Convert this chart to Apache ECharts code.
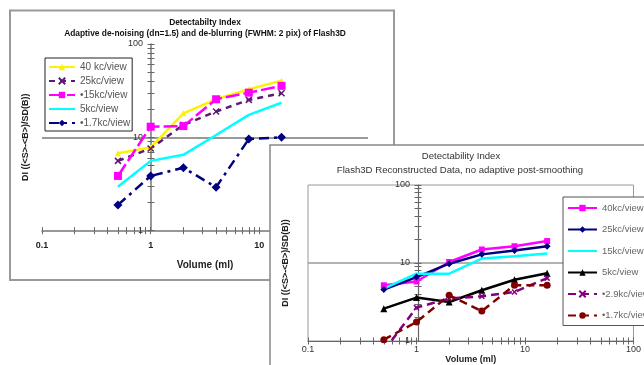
<!DOCTYPE html>
<html><head><meta charset="utf-8">
<script src="https://cdn.jsdelivr.net/npm/echarts@6/dist/echarts.min.js"></script>
<style>html,body{margin:0;padding:0;background:#fff}#c{width:644px;height:365px}</style>
</head><body><div id="c"></div>
<script>
const FONT = '"Liberation Sans", Arial, sans-serif';
const volumes = [0.5, 1, 2, 4, 8, 16];

// Chart 1 : adaptive de-noising + de-blurring
const c1Names = ['40 kc/view', '25kc/view', '•15kc/view', '5kc/view', '•1.7kc/view'];
const c1_40 = [6.75, 7.8, 18.1, 25.6, 32.8, 40.5];
const c1_25 = [5.6, 7.6, 13.6, 18.9, 25.2, 29.7];
const c1_15 = [3.86, 13.0, 13.2, 25.6, 30.1, 35.6];
const c1_5 = [2.96, 5.6, 6.5, 10.6, 17.4, 23.5];
const c1_1p7 = [1.89, 3.86, 4.73, 2.92, 9.6, 10.0];

// Chart 2 : no adaptive post-smoothing
const c2Names = ['40kc/view', '25kc/view', '15kc/view', '5kc/view', '•2.9kc/view', '•1.7kc/view'];
const c2_40 = [5.18, 5.8, 10.3, 14.9, 16.4, 19.1];
const c2_25 = [4.56, 6.6, 9.8, 12.9, 14.5, 16.4];
const c2_15 = [4.7, 7.3, 7.3, 11.4, 12.2, 13.2];
const c2_5 = [2.6, 3.6, 3.16, 4.47, 6.1, 7.4];
const c2_2p9 = [0.75, 2.68, 3.5, 3.74, 4.25, 6.4];
const c2_1p7 = [1.04, 1.75, 3.85, 2.42, 5.18, 5.18];

// tick positions
const xTickValues = [0.1,0.2,0.3,0.4,0.5,0.6,0.7,0.8,0.9,1,2,3,4,5,6,7,8,9,10,20,30,40,50,60,70,80,90,100];
const yTickValues = [1,2,3,4,5,6,7,8,9,10,20,30,40,50,60,70,80,90,100];

const title1 = 'Detectabilty Index';
const subtitle1 = 'Adaptive de-noising (dn=1.5) and de-blurring (FWHM: 2 pix) of Flash3D';
const title2 = 'Detectability Index';
const subtitle2 = 'Flash3D Reconstructed Data, no adaptive post-smoothing';
const xName = 'Volume (ml)';
const yName = 'DI ((<S>-<B>)/SD(B))';

const XPATH = 'path://M0,0L10,10M10,0L0,10';

function pts(arr) { return volumes.map((v, i) => [v, arr[i]]); }

function axisSet(kind, grid, z, offset, main) {
  // main axis + two tick axes (outside + inside) to get crossing ticks
  const base = {
    type: 'log', logBase: 10, gridIndex: grid, z: z,
    min: kind === 'x' ? 0.1 : 1, max: 100,
    position: kind === 'x' ? 'bottom' : 'left',
    offset: offset,
    axisLine: { onZero: false, show: false },
    axisLabel: { show: false },
    axisTick: { show: false },
    splitLine: { show: false }
  };
  const vals = kind === 'x' ? xTickValues : yTickValues;
  const tickColor = '#666';
  const a = Object.assign({}, base, main);
  const b = Object.assign({}, base, { axisTick: { show: true, customValues: vals, length: 3.5, inside: false, lineStyle: { color: tickColor, width: 1 } } });
  const c = Object.assign({}, base, { axisTick: { show: true, customValues: vals, length: 3.5, inside: true, lineStyle: { color: tickColor, width: 1 } } });
  return [a, b, c];
}

const xAxes = [].concat(
  axisSet('x', 0, 0, 0, {
    axisLine: { show: true, onZero: false, lineStyle: { color: '#777', width: 1.5 } },
    axisLabel: { show: true, margin: 10, fontSize: 9, fontWeight: 'bold', color: '#222', fontFamily: FONT },
    name: xName, nameLocation: 'middle', nameGap: 30,
    nameTextStyle: { fontSize: 10, fontWeight: 'bold', color: '#222', fontFamily: FONT }
  }),
  axisSet('x', 1, 21, 0, {
    axisLine: { show: true, onZero: false, lineStyle: { color: '#666', width: 1.2 } },
    axisLabel: { show: true, margin: 4, fontSize: 9, color: '#333', fontFamily: FONT },
    name: xName, nameLocation: 'middle', nameGap: 3,
    nameTextStyle: { fontSize: 9, fontWeight: 'bold', color: '#222', fontFamily: FONT }
  })
);
const yAxes = [].concat(
  axisSet('y', 0, 0, -109, {
    axisLine: { show: true, onZero: false, lineStyle: { color: '#777', width: 1.5 } },
    axisLabel: { show: true, margin: 8, fontSize: 9, color: '#333', fontFamily: FONT },
    splitLine: { show: true, showMaxLine: false, showMinLine: false, lineStyle: { color: '#999', width: 2 } },
    name: yName, nameLocation: 'middle', nameGap: 121,
    nameTextStyle: { fontSize: 9, fontWeight: 'bold', color: '#222', fontFamily: FONT }
  }),
  axisSet('y', 1, 21, -110, {
    axisLine: { show: true, onZero: false, lineStyle: { color: '#666', width: 1.2 } },
    axisLabel: { show: true, margin: 8, fontSize: 9, color: '#333', fontFamily: FONT },
    splitLine: { show: true, showMaxLine: false, showMinLine: false, lineStyle: { color: '#999', width: 1.5 } },
    name: yName, nameLocation: 'middle', nameGap: 128,
    nameTextStyle: { fontSize: 9, fontWeight: 'bold', color: '#222', fontFamily: FONT }
  })
);

function line(prefix, name, arr, xi, yi, z, color, o) {
  return {
    type: 'line', name: prefix + '|' + name, xAxisIndex: xi, yAxisIndex: yi, z: z,
    data: pts(arr), animation: false, clip: true,
    lineStyle: { color: color, width: 2.5, type: o.dash || 'solid' },
    itemStyle: { color: color, borderColor: color, borderWidth: o.bw || 0 },
    symbol: o.symbol || 'none', symbolSize: o.size || 6, showSymbol: !!o.symbol
  };
}

const series = [
  line('A', c1Names[0], c1_40, 0, 0, 2, '#FFF200', { symbol: 'triangle', size: 6 }),
  line('A', c1Names[1], c1_25, 0, 0, 2, '#5E1A72', { symbol: XPATH, size: 6, bw: 1.5, dash: [6, 5] }),
  line('A', c1Names[2], c1_15, 0, 0, 2, '#FF00FF', { symbol: 'rect', size: 8, dash: [14, 4] }),
  line('A', c1Names[3], c1_5, 0, 0, 2, '#00FFFF', {}),
  line('A', c1Names[4], c1_1p7, 0, 0, 2, '#000080', { symbol: 'diamond', size: 9, dash: [10, 5, 3, 5] }),

  line('B', c2Names[0], c2_40, 3, 3, 22, '#FF00FF', { symbol: 'rect', size: 6 }),
  line('B', c2Names[1], c2_25, 3, 3, 22, '#000080', { symbol: 'diamond', size: 7 }),
  line('B', c2Names[2], c2_15, 3, 3, 22, '#00FFFF', {}),
  line('B', c2Names[3], c2_5, 3, 3, 22, '#000000', { symbol: 'triangle', size: 7 }),
  line('B', c2Names[4], c2_2p9, 3, 3, 22, '#800080', { symbol: XPATH, size: 5, bw: 1.5, dash: [8, 5] }),
  line('B', c2Names[5], c2_1p7, 3, 3, 22, '#800000', { symbol: 'circle', size: 7, dash: [8, 5] })
];

const strip = n => n.split('|')[1];
// legend entries; series without markers get an invisible legend symbol
function legendData(prefix, names, noMarker) {
  return names.map(n => noMarker.indexOf(n) >= 0
    ? { name: prefix + '|' + n, itemStyle: { opacity: 0 } }
    : { name: prefix + '|' + n });
}

const option = {
  animation: false,
  backgroundColor: '#fff',
  textStyle: { fontFamily: FONT },
  grid: [
    { left: 42, right: 276, top: 44, bottom: 134.3, show: false, z: 0 },
    { left: 308, right: 6, top: 185, bottom: 24, show: true, z: 21, backgroundColor: 'transparent', borderColor: '#999', borderWidth: 1 }
  ],
  xAxis: xAxes,
  yAxis: yAxes,
  legend: [
    {
      data: legendData('A', c1Names, ['5kc/view']), formatter: strip, selectedMode: false,
      orient: 'vertical', left: 45, top: 58, itemWidth: 26, itemHeight: 8, itemGap: 4,
      backgroundColor: '#fff', borderColor: '#222', borderWidth: 1, padding: [4, 2, 3, 3],
      textStyle: { fontSize: 10, color: '#555', fontFamily: FONT }, z: 5
    },
    {
      data: legendData('B', c2Names, ['15kc/view']), formatter: strip, selectedMode: false,
      orient: 'vertical', left: 563, top: 197, itemWidth: 29, itemHeight: 8, itemGap: 11.5,
      backgroundColor: '#fff', borderColor: '#555', borderWidth: 1, padding: [6, 12, 5, 4],
      textStyle: { fontSize: 9.5, color: '#666', fontFamily: FONT }, z: 25
    }
  ],
  graphic: [
    { type: 'rect', z: -1, shape: { x: 10, y: 10.5, width: 384, height: 269.5 }, style: { fill: '#fff', stroke: '#999', lineWidth: 2 } },
    { type: 'text', z: 1, x: 205, y: 23, style: { text: title1, fontSize: 8.4, fontWeight: 'bold', fontFamily: FONT, fill: '#111', align: 'center', verticalAlign: 'middle', textAlign: 'center', textVerticalAlign: 'middle' } },
    { type: 'text', z: 1, x: 205, y: 34, style: { text: subtitle1, fontSize: 8.4, fontWeight: 'bold', fontFamily: FONT, fill: '#111', align: 'center', verticalAlign: 'middle', textAlign: 'center', textVerticalAlign: 'middle' } },
    { type: 'rect', z: 20, shape: { x: 270, y: 145, width: 400, height: 260 }, style: { fill: '#fff', stroke: '#888', lineWidth: 1.5 } },
    { type: 'text', z: 25, x: 461, y: 156, style: { text: title2, fontSize: 9.6, fontFamily: FONT, fill: '#333', align: 'center', verticalAlign: 'middle', textAlign: 'center', textVerticalAlign: 'middle' } },
    { type: 'text', z: 25, x: 460, y: 170, style: { text: subtitle2, fontSize: 9.6, fontFamily: FONT, fill: '#333', align: 'center', verticalAlign: 'middle', textAlign: 'center', textVerticalAlign: 'middle' } }
  ],
  series: series
};

const chart = echarts.init(document.getElementById('c'), null, { renderer: 'canvas' });
chart.setOption(option);
</script>
</body></html>
